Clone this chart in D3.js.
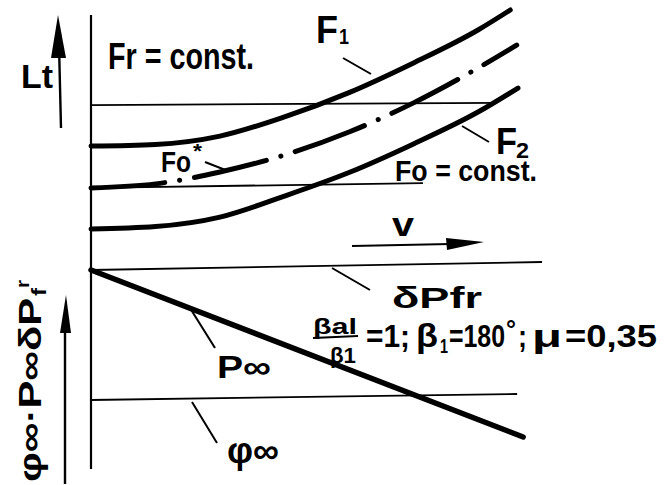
<!DOCTYPE html>
<html>
<head>
<meta charset="utf-8">
<script src="https://cdn.jsdelivr.net/npm/d3@7/dist/d3.min.js"></script>
<style>
  html, body { margin: 0; padding: 0; background: #fff; }
  svg { display: block; }
  text { font-family: "Liberation Sans", "DejaVu Sans", sans-serif; font-weight: bold; fill: #000; }
</style>
</head>
<body>
<svg id="chart" width="664" height="485"></svg>
<script>
// Velocity (v) abscissa, shared by both panels
// Upper panel: L against v for three force settings
const f1V = [0, 1.5, 3, 4.5, 6, 7.5, 9, 9.75];
const f1L = [4.59, 4.65, 4.96, 5.67, 6.57, 7.67, 8.89, 9.63];
const f0V = [0, 1.5, 3, 4.5, 6, 7.5, 9, 9.9];
const f0L = [3.04, 3.19, 3.63, 4.26, 5.11, 6.19, 7.48, 8.33];
const f2V = [0, 1.5, 3, 4.5, 6, 7.5, 9, 9.93];
const f2L = [1.52, 1.61, 1.96, 2.74, 3.61, 4.67, 5.85, 6.74];
// Upper panel thin reference lines
const refAV = [0, 9.44], refAL = [6.11, 6.19];
const refBV = [0, 7.72], refBL = [3.04, 3.22];

// Lower panel: φ∞, P∞, δPfr against v
const pInfV = [0, 10.05], pInfY = [10, 1.65];
const phiV = [0, 9.91], phiY = [3.5, 3.8];
const dPV = [0, 10.49], dPY = [10, 10.4];

const svg = d3.select("#chart");
const x = d3.scaleLinear().domain([0, 10]).range([91, 521]);
const yUp = d3.scaleLinear().domain([0, 10]).range([270, 0]);
const yLo = d3.scaleLinear().domain([0, 10]).range([470, 270]);

const zip = (a, b) => a.map((d, i) => [d, b[i]]);
const lineUp = d3.line().x(d => x(d[0])).y(d => yUp(d[1])).curve(d3.curveMonotoneX);
const lineLo = d3.line().x(d => x(d[0])).y(d => yLo(d[1]));

// vertical axis v = 0
svg.append("line").attr("x1", x(0)).attr("x2", x(0)).attr("y1", 15).attr("y2", 469)
  .attr("stroke", "#000").attr("stroke-width", 2.2);

// thin reference lines
const thin = (path) => svg.append("path").attr("d", path).attr("fill", "none")
  .attr("stroke", "#000").attr("stroke-width", 1.8);
thin(lineUp(zip(refAV, refAL)));
thin(lineUp(zip(refBV, refBL)));
thin(lineLo(zip(dPV, dPY)));
thin(lineLo(zip(phiV, phiY)));

// thick curves
const thick = (path, w) => svg.append("path").attr("d", path).attr("fill", "none")
  .attr("stroke", "#000").attr("stroke-width", w).attr("stroke-linecap", "round");
thick(lineUp(zip(f1V, f1L)), 5);
thick(lineUp(zip(f2V, f2L)), 5);
thick(lineUp(zip(f0V, f0L)), 5).attr("stroke-dasharray", "74,15,0.1,15");
thick(lineLo(zip(pInfV, pInfY)), 5.5);

// leader lines
const leader = (x1, y1, x2, y2) => svg.append("line")
  .attr("x1", x1).attr("y1", y1).attr("x2", x2).attr("y2", y2)
  .attr("stroke", "#000").attr("stroke-width", 2);
leader(343, 58, 371, 74);    // F1
leader(462, 126, 489, 142);  // F2
leader(205, 162, 228, 171);  // F0*
leader(332, 268, 370, 290);  // δPfr
leader(190, 308, 215, 348);  // P∞
leader(192, 402, 217, 443);  // φ∞

// arrows
const arrow = (pts) => svg.append("path").attr("d", "M" + pts.join("L") + "Z").attr("fill", "#000");
svg.append("line").attr("x1", 61).attr("y1", 128).attr("x2", 59).attr("y2", 45)
  .attr("stroke", "#000").attr("stroke-width", 2.4);
arrow([[58, 15], [66, 58], [51, 58]]);
svg.append("line").attr("x1", 65).attr("y1", 484).attr("x2", 65).attr("y2", 325)
  .attr("stroke", "#000").attr("stroke-width", 2.4);
arrow([[66, 295], [71, 333], [60, 333]]);
svg.append("line").attr("x1", 352).attr("y1", 246).attr("x2", 450).attr("y2", 244)
  .attr("stroke", "#000").attr("stroke-width", 2.2);
arrow([[484, 242], [446, 238], [447, 250]]);

// text helper
function label(tx, ty, str, size, len, transform) {
  const t = svg.append("text").attr("x", tx).attr("y", ty).attr("font-size", size).text(str);
  if (transform) t.attr("transform", transform);
  if (len) t.attr("textLength", len).attr("lengthAdjust", "spacingAndGlyphs");
  return t;
}

label(21, 88, "Lt", 34, 32);
label(108, 69, "Fr = const.", 36, 146);
label(316, 43, "F", 38, 22);
label(339, 44, "1", 22, 10);
label(496, 154, "F", 36, 21);
label(516, 158, "2", 22, 13);
label(395, 181, "Fo = const.", 30, 142);
label(161, 172, "Fo", 30, 30);
label(193, 158, "*", 20, 9);
label(392, 236, "v", 34, 22);
label(392, 308, "δPfr", 30, 90);
label(217, 378, "P∞", 32, 54);
label(227, 463, "φ∞", 36, 52);

// formula: βal / β1 = 1; β1 = 180°; μ = 0,35
label(313, 334, "βal", 22, 44);
svg.append("line").attr("x1", 313).attr("y1", 338).attr("x2", 358).attr("y2", 336)
  .attr("stroke", "#000").attr("stroke-width", 2.2);
label(330, 363, "β1", 22, 26);
label(366, 347, "=1;", 32, 44);
label(416, 347, "β", 34, 22);
label(440, 353, "1", 20, 8);
label(449, 347, "=180", 32, 56);
label(506, 338, "°", 26, 10);
label(518, 347, ";", 32, 9);
label(532, 347, "μ", 32, 30);
label(565, 347, "=0,35", 32, 92);

// rotated ordinate label of the lower panel
label(0, 0, "φ∞·P∞δP", 32, 184, "translate(41,482) rotate(-90)");
label(186, 5, "f", 20, 8, "translate(41,482) rotate(-90)");
label(194, -12, "r", 18, 8, "translate(41,482) rotate(-90)");
</script>
</body>
</html>
